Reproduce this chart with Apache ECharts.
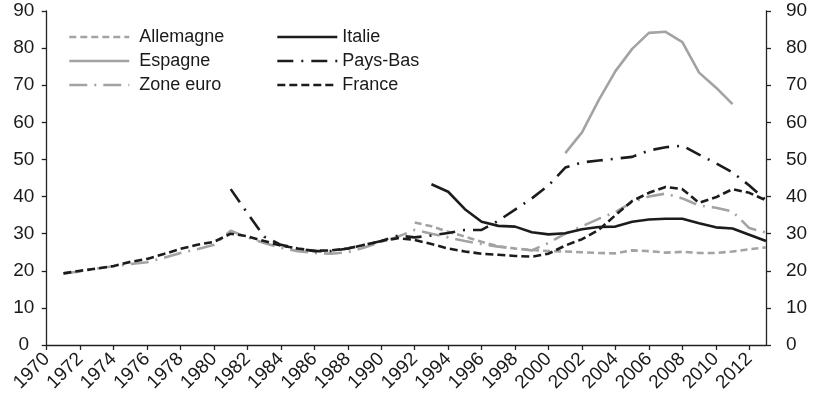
<!DOCTYPE html>
<html>
<head>
<meta charset="utf-8">
<script src="https://cdn.jsdelivr.net/npm/echarts@6/dist/echarts.min.js"></script>
<style>
html,body{margin:0;padding:0;background:#fff;}
#chart{width:816px;height:412px;}
</style>
</head>
<body>
<div id="chart"></div>
<script>
// Years on the horizontal axis
const years = [];
for (let y = 1970; y <= 2013; y++) years.push(String(y));

// Series values (each with its first year)
const allemagneStart = 1992;
const allemagne = [33.0, 32.0, 30.5, 29.2, 27.8, 26.6, 26.0, 25.6, 25.3, 25.2, 25.0, 24.8, 24.7, 25.5, 25.3, 24.9, 25.1, 24.8, 24.8, 25.2, 25.8, 26.3];

const espagneStart = 2001;
const espagne = [51.7, 57.3, 66.0, 73.8, 79.8, 84.1, 84.4, 81.6, 73.4, 69.4, 64.9];

const zoneEuroStart = 1971;
const zoneEuro = [19.3, 19.8, 20.6, 21.2, 21.8, 22.3, 23.5, 24.8, 25.8, 27.0, 30.8, 29.0, 27.5, 26.2, 25.3, 24.8, 24.6, 25.0, 26.3, 27.8, 29.2, 31.0, 30.0, 29.0, 28.0, 27.2, 26.5, 26.0, 25.5, 27.5, 30.0, 32.0, 34.0, 35.8, 38.5, 40.0, 40.8, 39.5, 37.6, 37.0, 36.0, 31.5, 30.3];

const italieStart = 1993;
const italie = [43.3, 41.3, 36.6, 33.2, 32.1, 31.9, 30.4, 29.8, 30.1, 31.2, 31.8, 31.9, 33.2, 33.8, 34.0, 34.0, 32.8, 31.7, 31.4, 29.7, 28.0];

const paysBasStart = 1981;
const paysBas = [42.0, 35.5, 29.2, 27.0, 26.0, 25.3, 25.3, 26.0, 27.0, 28.0, 29.5, 29.0, 29.5, 30.2, 31.0, 31.0, 33.5, 36.5, 39.5, 43.0, 47.8, 49.2, 49.7, 50.2, 50.7, 52.4, 53.3, 53.7, 51.3, 49.0, 46.5, 43.0, 39.0];

const franceStart = 1971;
const france = [19.3, 20.0, 20.6, 21.3, 22.4, 23.2, 24.5, 25.9, 27.0, 27.8, 30.0, 29.3, 28.0, 26.8, 26.0, 25.4, 25.5, 26.0, 27.0, 28.0, 28.8, 28.3, 27.2, 26.0, 25.2, 24.6, 24.3, 24.0, 23.8, 24.6, 26.8, 28.5, 31.0, 35.0, 38.8, 41.0, 42.6, 42.0, 38.3, 39.8, 42.0, 41.0, 39.0];

const yTicks = [0, 10, 20, 30, 40, 50, 60, 70, 80, 90];

function pad(start, vals) {
  const out = years.map(() => null);
  vals.forEach((v, i) => { out[start - 1970 + i] = v; });
  return out;
}

const GRAY = '#a3a3a3';
const BLACK = '#1c1c1c';
const FONT = '"Liberation Sans", Arial, sans-serif';

function mk(name, start, vals, color, type) {
  return {
    name: name, type: 'line', data: pad(start, vals),
    symbol: 'none', connectNulls: false, smooth: false,
    lineStyle: { color: color, width: 2.6, type: type },
    itemStyle: { color: color },
    emphasis: { disabled: true }
  };
}

const chart = echarts.init(document.getElementById('chart'), null, { renderer: 'canvas' });

const yAxisBase = {
  type: 'value', min: yTicks[0], max: yTicks[yTicks.length - 1], interval: 10,
  splitLine: { show: false },
  axisLine: { show: true, lineStyle: { color: '#222', width: 1.3 } },
  axisTick: { show: true, length: 5, lineStyle: { color: '#222', width: 1.3 } }
};

const legendBase = {
  orient: 'vertical', top: 23, itemWidth: 60, itemHeight: 12, itemGap: 6,
  itemStyle: { opacity: 0 },
  lineStyle: { width: 2.6 }
};

chart.setOption({
  animation: false,
  textStyle: { fontFamily: FONT },
  grid: { left: 46.7, right: 50, top: 11, bottom: 67 },
  legend: [
    Object.assign({}, legendBase, {
      left: 63,
      data: ['Allemagne', 'Espagne', 'Zone euro'],
      textStyle: { fontSize: 18, color: '#1a1a1a', fontFamily: FONT, padding: [0, 0, 0, 5] }
    }),
    Object.assign({}, legendBase, {
      left: 271,
      data: ['Italie', 'Pays-Bas', 'France'],
      textStyle: { fontSize: 18, color: '#1a1a1a', fontFamily: FONT }
    })
  ],
  xAxis: {
    type: 'category', data: years, boundaryGap: false,
    axisLine: { show: true, onZero: false, lineStyle: { color: '#222', width: 1.3 } },
    axisTick: { show: true, interval: 1, length: 5, lineStyle: { color: '#222', width: 1.3 } },
    axisLabel: { interval: 1, rotate: 45, fontSize: 19, color: '#1a1a1a', fontFamily: FONT, margin: 11 }
  },
  yAxis: [
    Object.assign({}, yAxisBase, {
      position: 'left',
      axisLabel: { fontSize: 19, color: '#1a1a1a', fontFamily: FONT, align: 'center', margin: 23 }
    }),
    Object.assign({}, yAxisBase, {
      position: 'right',
      axisLabel: { fontSize: 19, color: '#1a1a1a', fontFamily: FONT, margin: 20 }
    })
  ],
  series: [
    mk('Allemagne', allemagneStart, allemagne, GRAY, [7, 4]),
    mk('Espagne', espagneStart, espagne, GRAY, 'solid'),
    mk('Zone euro', zoneEuroStart, zoneEuro, GRAY, [18, 7, 2, 7]),
    mk('Italie', italieStart, italie, BLACK, 'solid'),
    mk('Pays-Bas', paysBasStart, paysBas, BLACK, [16, 8, 2, 8]),
    mk('France', franceStart, france, BLACK, [8, 4])
  ]
});
</script>
</body>
</html>
